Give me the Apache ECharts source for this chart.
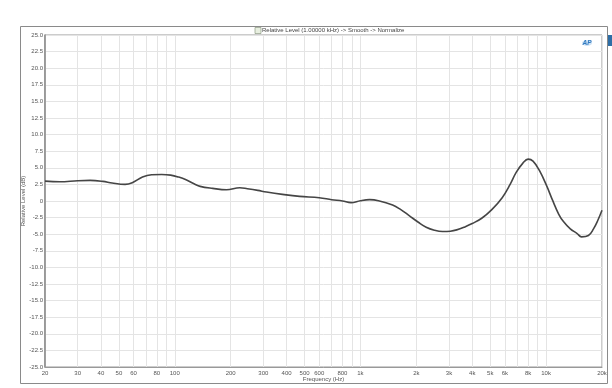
<!DOCTYPE html>
<html>
<head>
<meta charset="utf-8">
<script src="https://cdn.jsdelivr.net/npm/echarts@6/dist/echarts.min.js"></script>
<style>html,body{margin:0;padding:0;background:#fff}#c{width:612px;height:388px}</style>
</head>
<body>
<div id="c"></div>
<script>
const freqs = [20,24,30,35,41,46,54,59,67,75,85,95,105,115,127,137,160,190,224,246,280,312,380,470,600,700,800,890,1000,1120,1250,1490,1650,1830,2050,2260,2500,2770,3050,3300,3650,4000,4500,5100,5800,6400,6900,7500,8000,8500,9200,10100,10800,11700,12400,13500,14700,15500,16900,18000,19000,20000];
const levels = [3.0,2.9,3.05,3.1,2.95,2.7,2.5,2.75,3.6,3.95,4.0,3.9,3.6,3.2,2.6,2.2,1.9,1.7,2.0,1.85,1.6,1.35,1.0,0.7,0.5,0.2,0.0,-0.25,0.05,0.2,0.05,-0.6,-1.3,-2.2,-3.2,-3.95,-4.4,-4.6,-4.55,-4.35,-3.9,-3.4,-2.6,-1.3,0.5,2.5,4.3,5.7,6.3,6.0,4.6,2.2,0.2,-2.0,-3.1,-4.2,-4.9,-5.4,-5.2,-4.2,-2.9,-1.4];
const xLabelValues = [20,30,40,50,60,80,100,200,300,400,500,600,800,1000,2000,3000,4000,5000,6000,8000,10000,20000];
const xGridValues = [20,30,40,50,60,70,80,90,100,200,300,400,500,600,700,800,900,1000,2000,3000,4000,5000,6000,7000,8000,9000,10000,20000];
const titleText = 'Relative Level (1.00000 kHz) -> Smooth -> Normalize';

const chart = echarts.init(document.getElementById('c'));
chart.setOption({
  animation: false,
  backgroundColor: '#fff',
  textStyle: {fontFamily: 'Liberation Sans'},
  title: {
    text: titleText, left: 262, top: 25, padding: [2, 0, 0, 0],
    textStyle: {fontSize: 6, fontWeight: 'normal', color: '#444'}
  },
  graphic: [
    {type: 'rect', shape: {x: 20.5, y: 26.5, width: 587, height: 357}, style: {fill: 'none', stroke: '#8a8a8a', lineWidth: 1}, z: -1},
    {type: 'rect', shape: {x: 255, y: 27.5, width: 6, height: 6}, style: {fill: '#e8efe0', stroke: '#7a8a70', lineWidth: 0.6}},
    {type: 'rect', shape: {x: 607, y: 35, width: 6, height: 11}, style: {fill: '#2e6ea6'}},
    {type: 'line', shape: {x1: 607.5, y1: 35, x2: 607.5, y2: 57}, style: {stroke: '#888', lineWidth: 1}},
    {type: 'ellipse', shape: {cx: 587, cy: 43, rx: 5, ry: 3}, style: {fill: '#cfe3f5', stroke: 'none'}},
    {type: 'text', style: {text: 'AP', x: 582.5, y: 39.5, fontSize: 6.5, fontStyle: 'italic', fontWeight: 'bold', fill: '#2f79c0'}}
  ],
  grid: {left: 45, top: 35, right: 10, bottom: 21, show: true, borderColor: '#999', borderWidth: 1},
  xAxis: {
    type: 'log', logBase: 10, min: 20, max: 20000,
    name: 'Frequency (Hz)', nameLocation: 'middle', nameGap: 9, nameMoveOverlap: false,
    nameTextStyle: {fontSize: 6, color: '#555'},
    axisLine: {show: true, onZero: false, lineStyle: {color: '#999'}},
    axisTick: {show: false, customValues: xGridValues},
    axisLabel: {customValues: xLabelValues, fontSize: 6, color: '#555', margin: 3,
      formatter: v => v >= 1000 ? (v / 1000) + 'k' : String(v)},
    splitLine: {show: true, lineStyle: {color: '#e4e4e4', width: 1}},
    minorSplitLine: {show: false}
  },
  yAxis: {
    type: 'value', min: -25, max: 25, interval: 2.5,
    name: 'Relative Level (dB)', nameLocation: 'middle', nameGap: 19, nameMoveOverlap: false,
    nameTextStyle: {fontSize: 6, color: '#555'},
    axisLine: {show: true, onZero: false, lineStyle: {color: '#888', width: 1.5}},
    axisTick: {show: false},
    axisLabel: {fontSize: 6, color: '#555', margin: 2,
      formatter: v => v === 0 ? '0' : v.toFixed(1)},
    splitLine: {show: true, lineStyle: {color: '#e4e4e4', width: 1}}
  },
  series: [{
    type: 'line', smooth: 0.4, showSymbol: false,
    data: freqs.map((f, i) => [f, levels[i]]),
    lineStyle: {color: '#454545', width: 1.6}
  }]
});
</script>
</body>
</html>
